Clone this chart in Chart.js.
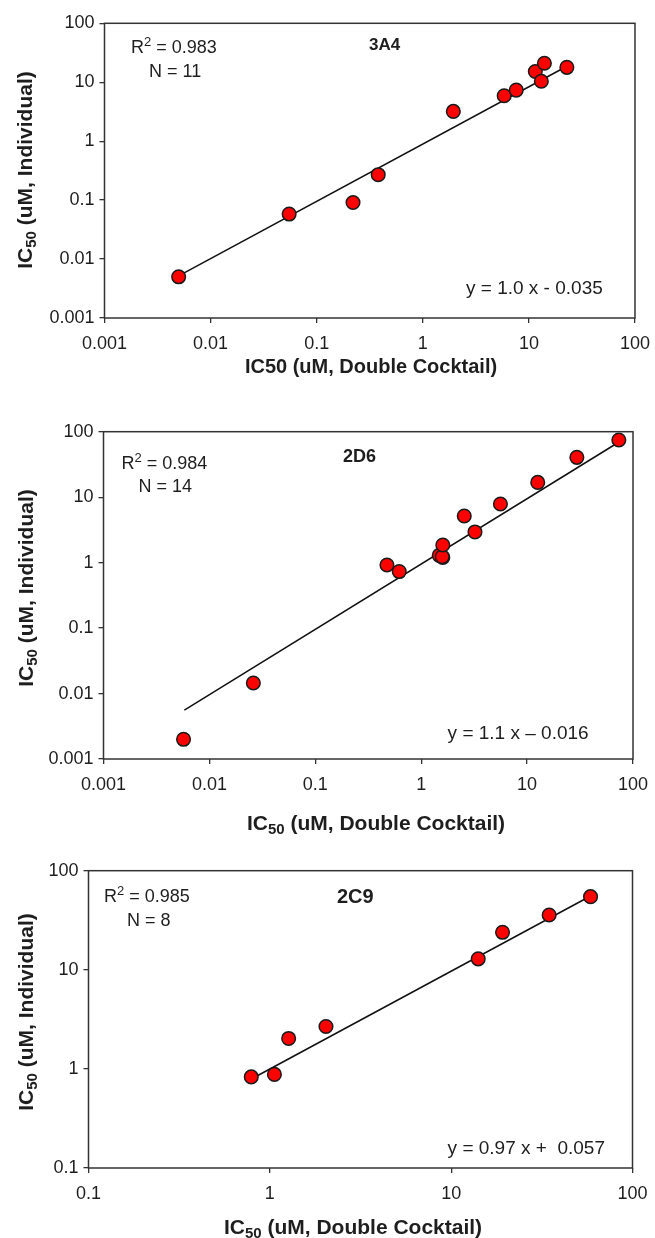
<!DOCTYPE html>
<html>
<head>
<meta charset="utf-8">
<script src="https://cdn.jsdelivr.net/npm/chart.js@4.4.1/dist/chart.umd.min.js"></script>
<style>
  html, body { margin: 0; padding: 0; background: #fff; }
  #wrap { position: relative; width: 655px; height: 1238px; }
  canvas { position: absolute; left: 0; }
</style>
</head>
<body>
<div id="wrap">
  <canvas id="c3A4" width="655" height="395" style="top:0px"></canvas>
  <canvas id="c2D6" width="655" height="445" style="top:395px"></canvas>
  <canvas id="c2C9" width="655" height="398" style="top:840px"></canvas>
</div>
<script>
// ── DATA ────────────────────────────────────────────────────────────────
// 3A4
const x3A4 = [0.005, 0.055, 0.22, 0.38, 1.94, 5.85, 7.6, 11.5, 14.0, 13.1, 22.8];
const y3A4 = [0.0050, 0.058, 0.091, 0.27, 3.2, 5.9, 7.35, 15.2, 21.0, 10.4, 17.9];
const fitX3A4 = [0.005, 24];
const fitY3A4 = [0.0052, 19.6];

// 2D6
const x2D6 = [0.0057, 0.026, 0.475, 0.62, 1.48, 1.6, 1.58, 1.6, 2.55, 3.22, 5.6, 12.6, 29.5, 73.5];
const y2D6 = [0.0020, 0.0145, 0.92, 0.73, 1.29, 1.2, 1.23, 1.86, 5.15, 2.94, 7.87, 16.8, 40.6, 74.7];
const fitX2D6 = [0.0058, 70];
const fitY2D6 = [0.0056, 66];

// 2C9
const x2C9 = [0.79, 1.06, 1.27, 2.04, 14.1, 19.2, 34.7, 58.7];
const y2C9 = [0.83, 0.88, 2.03, 2.68, 12.9, 23.9, 35.7, 54.7];
const fitX2C9 = [0.8, 57];
const fitY2C9 = [0.8, 54];

// axis ticks
const ticksWide = [0.001, 0.01, 0.1, 1, 10, 100];
const ticksNarrow = [0.1, 1, 10, 100];

// ── DRAW HELPERS ────────────────────────────────────────────────────────
const FONT = '"Liberation Sans", Arial, Helvetica, sans-serif';
const INK = '#1e1e1e';

function toPoints(xs, ys) {
    return xs.map((x, i) => ({ x: x, y: ys[i] }));
}

// parts: [{t:'IC'}, {t:'50', s:'sub'}, ...]
function drawRich(ctx, parts, x, y, size, bold, align, rotate) {
    const fontFor = p => (bold ? 'bold ' : '') + (p.s ? Math.round(size * 0.7) : size) + 'px ' + FONT;
    ctx.save();
    ctx.translate(x, y);
    if (rotate) ctx.rotate(-Math.PI / 2);
    ctx.fillStyle = INK;
    ctx.textAlign = 'left';
    ctx.textBaseline = 'alphabetic';
    let w = 0;
    parts.forEach(p => { ctx.font = fontFor(p); w += ctx.measureText(p.t).width; });
    let cx = align === 'center' ? -w / 2 : 0;
    const base = size * 0.36;
    parts.forEach(p => {
        ctx.font = fontFor(p);
        let dy = 0;
        if (p.s === 'sub') dy = size * 0.2;
        if (p.s === 'sup') dy = -size * 0.4;
        ctx.fillText(p.t, cx, base + dy);
        cx += ctx.measureText(p.t).width;
    });
    ctx.restore();
}

const frameAndText = {
    id: 'frameAndText',
    afterDraw(chart, args, opts) {
        const ctx = chart.ctx;
        const a = chart.chartArea;
        ctx.save();
        ctx.strokeStyle = '#333';
        ctx.lineWidth = 1.5;
        ctx.strokeRect(a.left, a.top, a.right - a.left, a.bottom - a.top);
        ctx.restore();
        (opts.texts || []).forEach(t => drawRich(ctx, t.parts, t.x, t.y, t.size, t.bold, t.align, t.rotate));
    }
};

function makePanel(id, pts, fitX, fitY, xTicks, yTicks, geo, texts) {
    const canvas = document.getElementById(id);
    const axis = (ticks, fitFn, lineHeight) => ({
        type: 'logarithmic',
        min: ticks[0],
        max: ticks[ticks.length - 1],
        afterBuildTicks: s => { s.ticks = ticks.map(v => ({ value: v })); },
        afterFit: fitFn,
        border: { display: false },
        grid: { drawOnChartArea: false, drawTicks: true, tickLength: 5, color: '#333', lineWidth: 1.3 },
        ticks: {
            autoSkip: false, maxRotation: 0, padding: 5,
            color: INK,
            font: { family: FONT, size: 18, lineHeight: lineHeight },
            callback: v => String(v)
        }
    });

    new Chart(canvas.getContext('2d'), {
        type: 'scatter',
        data: {
            datasets: [
                {
                    data: pts,
                    backgroundColor: '#ff0000',
                    borderColor: '#1a1a1a',
                    borderWidth: 1.5,
                    pointRadius: 6.8,
                    order: 1
                },
                {
                    data: toPoints(fitX, fitY),
                    showLine: true,
                    borderColor: '#111',
                    borderWidth: 1.5,
                    pointRadius: 0,
                    order: 2
                }
            ]
        },
        options: {
            responsive: false,
            animation: false,
            events: [],
            layout: { padding: { left: 0, right: geo.right, top: geo.top, bottom: 0 } },
            plugins: {
                legend: { display: false },
                tooltip: { enabled: false },
                frameAndText: { texts: texts }
            },
            scales: {
                // taller line box pushes the x labels a little further below the axis
                x: axis(xTicks, s => { s.height = geo.xh; }, 1.75),
                y: axis(yTicks, s => { s.width = geo.yw; }, 1.2)
            }
        },
        plugins: [frameAndText]
    });
}

const icSub = (rest) => [{ t: 'IC' }, { t: '50', s: 'sub' }, { t: rest }];
const rSq = (val) => [{ t: 'R' }, { t: '2', s: 'sup' }, { t: ' = ' + val }];

// ── PANELS ──────────────────────────────────────────────────────────────
makePanel('c3A4', toPoints(x3A4, y3A4), fitX3A4, fitY3A4, ticksWide, ticksWide,
    { yw: 104.5, right: 17.5, top: 23.3, xh: 77 },
    [
        { parts: rSq('0.983'), x: 131, y: 47, size: 18 },
        { parts: [{ t: 'N = 11' }], x: 149, y: 71, size: 18 },
        { parts: [{ t: '3A4' }], x: 369, y: 44, size: 17, bold: true },
        { parts: [{ t: 'y = 1.0 x - 0.035' }], x: 466, y: 287, size: 19 },
        { parts: [{ t: 'IC50 (uM, Double Cocktail)' }], x: 371, y: 366, size: 20, bold: true, align: 'center' },
        { parts: icSub(' (uM, Individual)'), x: 24, y: 170, size: 21, bold: true, align: 'center', rotate: true }
    ]);

makePanel('c2D6', toPoints(x2D6, y2D6), fitX2D6, fitY2D6, ticksWide, ticksWide,
    { yw: 103.5, right: 22, top: 36.7, xh: 81 },
    [
        { parts: rSq('0.984'), x: 121.5, y: 68, size: 18 },
        { parts: [{ t: 'N = 14' }], x: 138.5, y: 91, size: 18 },
        { parts: [{ t: '2D6' }], x: 343, y: 61, size: 18, bold: true },
        { parts: [{ t: 'y = 1.1 x \u2013 0.016' }], x: 447.6, y: 337, size: 19 },
        { parts: icSub(' (uM, Double Cocktail)'), x: 376, y: 427, size: 21, bold: true, align: 'center' },
        { parts: icSub(' (uM, Individual)'), x: 25, y: 193, size: 21, bold: true, align: 'center', rotate: true }
    ]);

makePanel('c2C9', toPoints(x2C9, y2C9), fitX2C9, fitY2C9, ticksNarrow, ticksNarrow,
    { yw: 88.5, right: 22.5, top: 30.7, xh: 70 },
    [
        { parts: rSq('0.985'), x: 104, y: 56, size: 18 },
        { parts: [{ t: 'N = 8' }], x: 127, y: 80, size: 18 },
        { parts: [{ t: '2C9' }], x: 337, y: 56, size: 20, bold: true },
        { parts: [{ t: 'y = 0.97 x +  0.057' }], x: 447.6, y: 307, size: 19 },
        { parts: icSub(' (uM, Double Cocktail)'), x: 353, y: 386, size: 21, bold: true, align: 'center' },
        { parts: icSub(' (uM, Individual)'), x: 25, y: 172, size: 21, bold: true, align: 'center', rotate: true }
    ]);
</script>
</body>
</html>
